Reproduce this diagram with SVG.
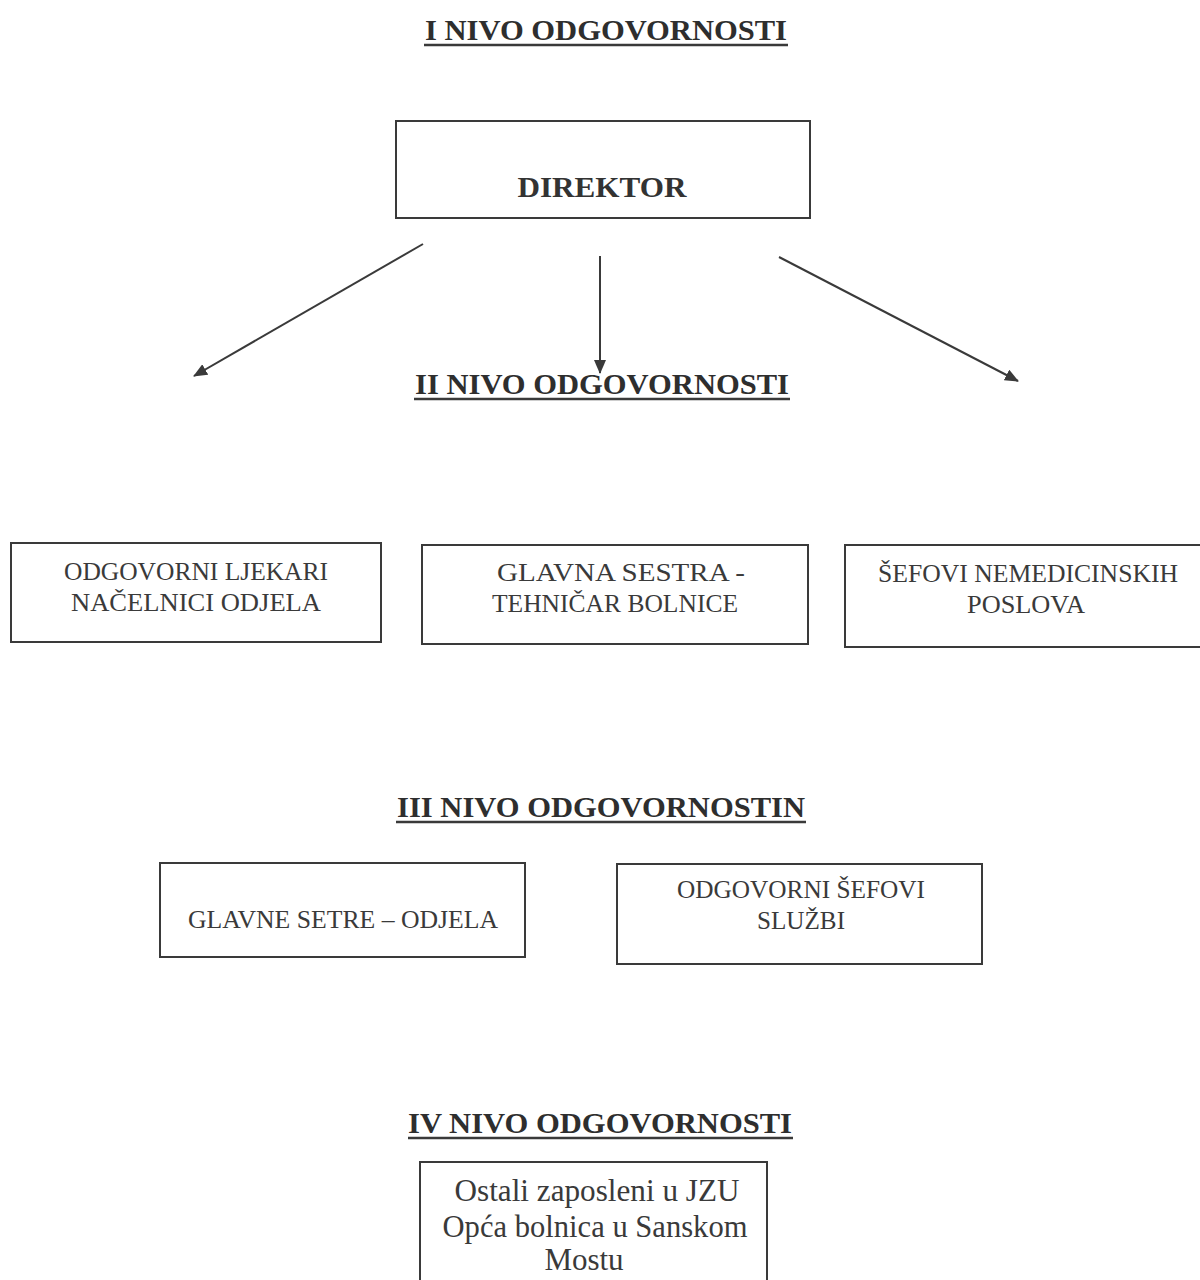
<svg xmlns="http://www.w3.org/2000/svg" width="1200" height="1280" viewBox="0 0 1200 1280">
<style>
.bg{fill:#ffffff}
.box{fill:none;stroke:#3a3a3a;stroke-width:2}
.title{font-family:"Liberation Serif","Times New Roman",serif;font-weight:bold;font-size:30px;fill:#2e2e2e}
.head{font-family:"Liberation Serif","Times New Roman",serif;font-weight:bold;font-size:30px;fill:#333333}
.lbl{font-family:"Liberation Serif","Times New Roman",serif;font-size:26px;fill:#3a3a3a}
.lbl2{font-family:"Liberation Serif","Times New Roman",serif;font-size:31px;fill:#3a3a3a}
.ul{stroke:#3a3a3a;stroke-width:2.6}
.conn{stroke:#3a3a3a;stroke-width:2;fill:none}
</style>
<defs>
<marker id="arr" markerWidth="14" markerHeight="12" refX="13" refY="6" orient="auto" markerUnits="userSpaceOnUse">
<path d="M0,0 L14,6 L0,12 Z" fill="#3a3a3a"/>
</marker>
</defs>
<rect class="bg" x="0" y="0" width="1200" height="1280"/>

<g id="title-1">
<text class="title" x="606" y="40" text-anchor="middle" textLength="362" lengthAdjust="spacingAndGlyphs">I NIVO ODGOVORNOSTI</text>
<line class="ul" x1="424" y1="45" x2="788" y2="45"/>
</g>

<g id="node-direktor">
<rect class="box" x="396" y="121" width="414" height="97"/>
<text class="head" x="602" y="197" text-anchor="middle" textLength="169" lengthAdjust="spacingAndGlyphs">DIREKTOR</text>
</g>

<g id="connectors">
<line class="conn" x1="423" y1="244" x2="194" y2="376" marker-end="url(#arr)"/>
<line class="conn" x1="600" y1="256" x2="600" y2="373" marker-end="url(#arr)"/>
<line class="conn" x1="779" y1="257" x2="1018" y2="381" marker-end="url(#arr)"/>
</g>

<g id="title-2">
<text class="title" x="602" y="394" text-anchor="middle" textLength="374" lengthAdjust="spacingAndGlyphs">II NIVO ODGOVORNOSTI</text>
<line class="ul" x1="414" y1="399" x2="790" y2="399"/>
</g>

<g id="node-ljekari">
<rect class="box" x="11" y="543" width="370" height="99"/>
<text class="lbl" x="196" y="580" text-anchor="middle" textLength="264" lengthAdjust="spacingAndGlyphs">ODGOVORNI LJEKARI</text>
<text class="lbl" x="196" y="611" text-anchor="middle" textLength="250" lengthAdjust="spacingAndGlyphs">NAČELNICI  ODJELA</text>
</g>

<g id="node-glavna-sestra">
<rect class="box" x="422" y="545" width="386" height="99"/>
<text class="lbl" x="621" y="581" text-anchor="middle" textLength="248" lengthAdjust="spacingAndGlyphs">GLAVNA  SESTRA -</text>
<text class="lbl" x="615" y="612" text-anchor="middle" textLength="246" lengthAdjust="spacingAndGlyphs">TEHNIČAR BOLNICE</text>
</g>

<g id="node-sefovi-nemed">
<rect class="box" x="845" y="545" width="360" height="102"/>
<text class="lbl" x="1028" y="582" text-anchor="middle" textLength="300" lengthAdjust="spacingAndGlyphs">ŠEFOVI NEMEDICINSKIH</text>
<text class="lbl" x="1026" y="613" text-anchor="middle" textLength="118" lengthAdjust="spacingAndGlyphs">POSLOVA</text>
</g>

<g id="title-3">
<text class="title" x="601" y="817" text-anchor="middle" textLength="408" lengthAdjust="spacingAndGlyphs">III NIVO ODGOVORNOSTIN</text>
<line class="ul" x1="396" y1="822" x2="806" y2="822"/>
</g>

<g id="node-glavne-sestre">
<rect class="box" x="160" y="863" width="365" height="94"/>
<text class="lbl" x="343" y="928" text-anchor="middle" textLength="310" lengthAdjust="spacingAndGlyphs">GLAVNE SETRE – ODJELA</text>
</g>

<g id="node-sefovi-sluzbi">
<rect class="box" x="617" y="864" width="365" height="100"/>
<text class="lbl" x="801" y="898" text-anchor="middle" textLength="248" lengthAdjust="spacingAndGlyphs">ODGOVORNI ŠEFOVI</text>
<text class="lbl" x="801" y="929" text-anchor="middle" textLength="88" lengthAdjust="spacingAndGlyphs">SLUŽBI</text>
</g>

<g id="title-4">
<text class="title" x="600" y="1133" text-anchor="middle" textLength="384" lengthAdjust="spacingAndGlyphs">IV NIVO ODGOVORNOSTI</text>
<line class="ul" x1="408" y1="1138" x2="793" y2="1138"/>
</g>

<g id="node-ostali">
<path class="box" d="M420,1282 L420,1162 L767,1162 L767,1282"/>
<text class="lbl2" x="597" y="1201" text-anchor="middle" textLength="285" lengthAdjust="spacingAndGlyphs">Ostali zaposleni u JZU</text>
<text class="lbl2" x="595" y="1237" text-anchor="middle" textLength="305" lengthAdjust="spacingAndGlyphs">Opća bolnica u Sanskom</text>
<text class="lbl2" x="584" y="1270" text-anchor="middle">Mostu</text>
</g>
</svg>
